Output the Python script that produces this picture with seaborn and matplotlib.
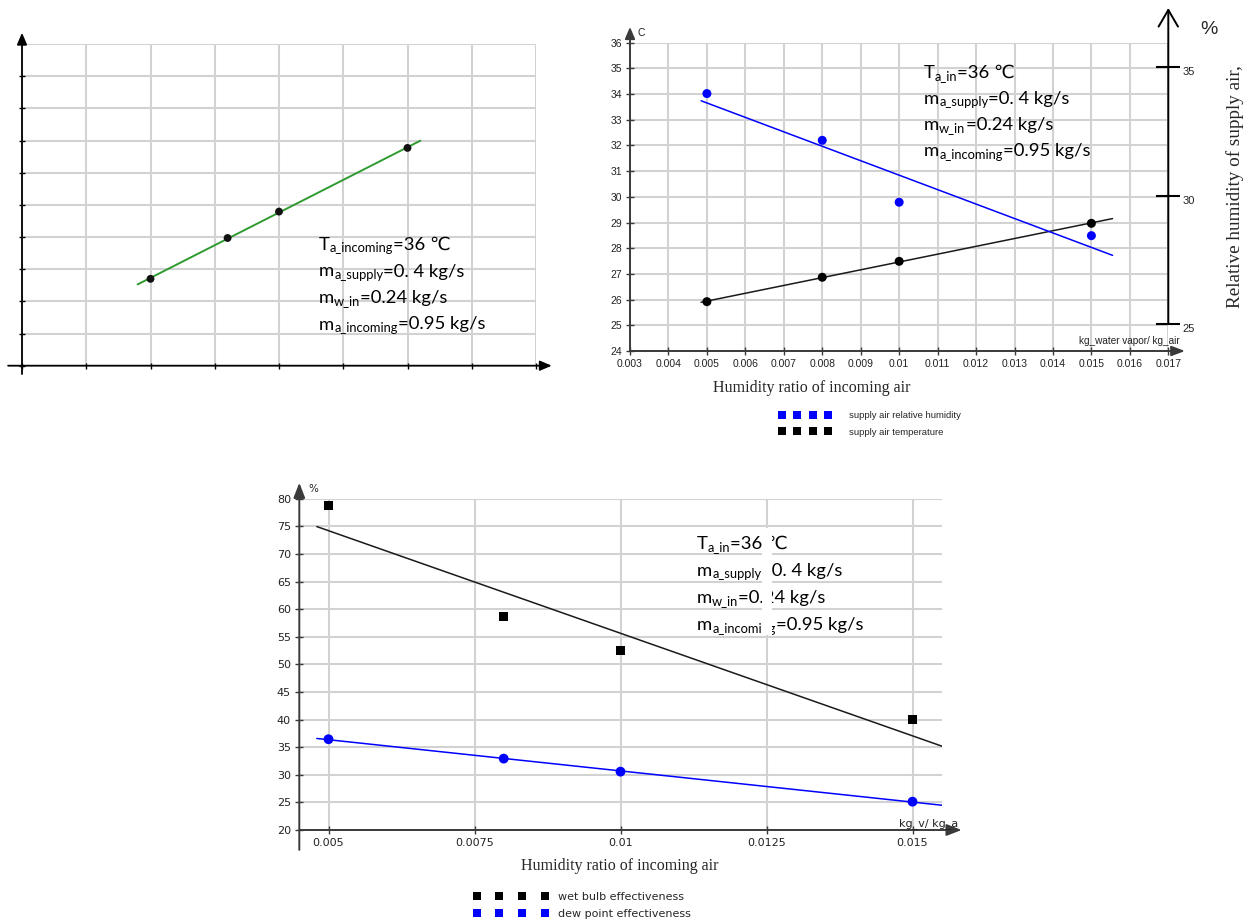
import numpy as np
import matplotlib
matplotlib.use("Agg")
import matplotlib.pyplot as plt
import seaborn as sns
from matplotlib.lines import Line2D
from matplotlib.patches import Rectangle

# ---------------- data ----------------
humidity_ratio = [0.005, 0.008, 0.010, 0.015]          # kg water vapour / kg air

# top-left chart (no value scale printed, grid units)
overview_values = [2.70, 3.97, 4.79, 6.77]

# top-right chart
supply_temperature = [25.92, 26.87, 27.49, 28.97]       # °C (left axis)
supply_rel_humidity = [33.97, 32.15, 29.74, 28.44]      # % (right axis)

# bottom chart
wet_bulb_effectiveness = [78.85, 58.70, 52.45, 39.95]   # %
dew_point_effectiveness = [36.44, 32.93, 30.57, 25.13]  # %

temp_ticks = list(range(24, 37))
rh_ticks = [25, 30, 35]
hr_ticks = [0.003, 0.004, 0.005, 0.006, 0.007, 0.008, 0.009, 0.010,
            0.011, 0.012, 0.013, 0.014, 0.015, 0.016, 0.017]
hr_tick_labels = ["0.003", "0.004", "0.005", "0.006", "0.007", "0.008", "0.009", "0.01",
                  "0.011", "0.012", "0.013", "0.014", "0.015", "0.016", "0.017"]
eff_ticks = list(range(20, 81, 5))
hr_ticks_coarse = [0.005, 0.0075, 0.010, 0.0125, 0.015]
hr_tick_labels_coarse = ["0.005", "0.0075", "0.01", "0.0125", "0.015"]
overview_xticks = [0.0, 0.0025, 0.005, 0.0075, 0.010, 0.0125, 0.015, 0.0175, 0.020]
overview_yticks = list(range(0, 11))

fit_range = (0.00485, 0.01555)

# ---------------- style ----------------
sns.set_theme(style="white")
plt.rcParams["font.family"] = ["Liberation Sans", "DejaVu Sans"]

GRID = "#d2d2d2"
BLUE = "#0000ff"
DARK = "#1a1a1a"
AXIS = "#3a3a3a"
GREEN = "#2f9a2f"
TEXT_FONT = ["Lato", "DejaVu Sans"]

W, H = 1254, 922
fig = plt.figure(figsize=(W / 100, H / 100), dpi=100)
fig.patch.set_facecolor("white")


def add_px_axes(left, top, right, bottom):
    return fig.add_axes([left / W, 1 - bottom / H, (right - left) / W, (bottom - top) / H])


def base_style(ax):
    for s in ax.spines.values():
        s.set_visible(False)
    ax.grid(True, color=GRID, lw=1.5)
    ax.set_axisbelow(True)
    ax.set_xlabel("")
    ax.set_ylabel("")


def axis_arrow(ax, start, end, color, lw, style):
    ax.annotate("", xy=end, xytext=start, xycoords="axes fraction",
                textcoords="axes fraction", annotation_clip=False,
                arrowprops=dict(arrowstyle=style, color=color, lw=lw,
                                shrinkA=0, shrinkB=0, mutation_scale=10))


def trend(ax, x, y, color, lw, span=fit_range):
    coef = np.polyfit(x, y, 1)
    xs = np.array(span)
    sns.lineplot(x=xs, y=np.polyval(coef, xs), ax=ax, color=color, lw=lw, zorder=2)


def param_block(x, baseline, step, lines, size=13.3):
    renderer = fig.canvas.get_renderer()
    for i, parts in enumerate(lines):
        cx = x
        y = baseline + i * step
        for txt, is_sub in parts:
            fs = size * 0.7 if is_sub else size
            off = 2.5 if is_sub else 0
            t = fig.text(cx / W, 1 - (y + off) / H, txt, fontsize=fs, family=TEXT_FONT,
                         va="baseline", ha="left", color="black", zorder=10)
            cx += t.get_window_extent(renderer).width


PARAMS_IN = [
    [("T", False), ("a_in", True), ("=36 \u2103", False)],
    [("m", False), ("a_supply", True), ("=0. 4 kg/s", False)],
    [("m", False), ("w_in", True), ("=0.24 kg/s", False)],
    [("m", False), ("a_incoming", True), ("=0.95 kg/s", False)],
]

# ================= top-left chart =================
ax1 = add_px_axes(22, 44, 536, 365.7)
trend(ax1, humidity_ratio, overview_values, GREEN, 1.4, span=(0.0045, 0.0155))
sns.scatterplot(x=humidity_ratio, y=overview_values, ax=ax1, color="#111111",
                s=32, edgecolor="none", zorder=3)
ax1.set_xlim(0, 0.02)
ax1.set_ylim(0, 10)
ax1.set_xticks(overview_xticks)
ax1.set_yticks(overview_yticks)
base_style(ax1)
ax1.tick_params(axis="both", direction="inout", length=5, width=1, color="black",
                labelbottom=False, labelleft=False, left=True, bottom=True)
axis_arrow(ax1, (-0.027, 0), (1.0306, 0), "black", 1.3, "-|>,head_length=0.7,head_width=0.3")
axis_arrow(ax1, (0, -0.026), (0, 1.035), "black", 1.3, "-|>,head_length=0.7,head_width=0.3")

param_block(319, 250, 26.5, [
    [("T", False), ("a_incoming", True), ("=36 \u2103", False)],
    [("m", False), ("a_supply", True), ("=0. 4 kg/s", False)],
    [("m", False), ("w_in", True), ("=0.24 kg/s", False)],
    [("m", False), ("a_incoming", True), ("=0.95 kg/s", False)],
])

# ================= top-right chart =================
ax2 = add_px_axes(630, 42.7, 1168.3, 351)
trend(ax2, humidity_ratio, supply_temperature, DARK, 1.1)
sns.scatterplot(x=humidity_ratio, y=supply_temperature, ax=ax2, color="black",
                s=42, edgecolor="none", zorder=3)
ax2.set_xlim(0.003, 0.017)
ax2.set_ylim(24, 36)
ax2.set_xticks(hr_ticks)
ax2.set_xticklabels(hr_tick_labels)
ax2.set_yticks(temp_ticks)
base_style(ax2)
ax2.tick_params(axis="both", direction="inout", length=6, width=1, color=AXIS,
                labelsize=7.5, labelcolor="#222222", pad=2.5, left=True, bottom=True)

ax2r = ax2.twinx()
trend(ax2r, humidity_ratio, supply_rel_humidity, BLUE, 1.1)
sns.scatterplot(x=humidity_ratio, y=supply_rel_humidity, ax=ax2r, color=BLUE,
                s=42, edgecolor="none", zorder=3)
ax2r.set_ylim(23.95, 35.95)
ax2r.set_yticks(rh_ticks)
for s in ax2r.spines.values():
    s.set_visible(False)
ax2r.grid(False)
ax2r.set_ylabel("")
ax2r.tick_params(axis="y", direction="inout", length=17, width=1.5, color="black",
                 labelsize=8, labelcolor="#222222", pad=2, right=True, left=False)
for lab in ax2r.get_yticklabels():
    lab.set_va("top")

axis_arrow(ax2, (0, 0), (1.031, 0), AXIS, 1.4, "-|>,head_length=0.8,head_width=0.3")
axis_arrow(ax2, (0, 0), (0, 1.051), AXIS, 1.4, "-|>,head_length=0.7,head_width=0.3")
ax2r.annotate("", xy=(1, 1.1125), xycoords="axes fraction",
              xytext=(1, 25.0), textcoords=("axes fraction", "data"), annotation_clip=False,
              arrowprops=dict(arrowstyle="->,head_length=1.2,head_width=0.7", color="black",
                              lw=1.4, shrinkA=0, shrinkB=0, mutation_scale=10))

fig.text(637 / W, 1 - 33 / H, "C", fontsize=7.5, va="center", ha="left", color="#222222")
fig.text(1180 / W, 1 - 344 / H, "kg_water vapor/ kg_air", fontsize=7.2, va="baseline",
         ha="right", color="#222222")
fig.text(812 / W, 1 - 388 / H, "Humidity ratio of incoming air", fontsize=11.5,
         family="Liberation Serif", ha="center", va="center")
fig.text(1235 / W, 1 - 187 / H, "Relative humidity of supply air,", fontsize=13.8,
         family="Liberation Serif", rotation=90, ha="center", va="center")
fig.text(1209 / W, 1 - 30 / H, "%", fontsize=14, ha="center", va="center")

param_block(924, 78, 26, PARAMS_IN)

fig.legend(
    handles=[Line2D([], [], ls="", marker="s", ms=5.8, color=BLUE, mew=0),
             Line2D([], [], ls="", marker="s", ms=5.8, color="black", mew=0)],
    labels=["supply air relative humidity", "supply air temperature"],
    numpoints=4, loc="center left", bbox_to_anchor=(779 / W, 1 - 424 / H),
    frameon=False, borderpad=0, borderaxespad=0, handlelength=5.5,
    handletextpad=1.9, labelspacing=0.75,
    prop={"family": "Liberation Sans", "size": 6.8},
)

# ================= bottom chart =================
ax3 = add_px_axes(299.3, 498.7, 941.7, 830)
trend(ax3, humidity_ratio, wet_bulb_effectiveness, DARK, 1.1, span=(0.0048, 0.0155))
trend(ax3, humidity_ratio, dew_point_effectiveness, BLUE, 1.1, span=(0.0048, 0.0155))
sns.scatterplot(x=humidity_ratio, y=wet_bulb_effectiveness, ax=ax3, color="black",
                marker="s", s=42, edgecolor="none", zorder=3)
sns.scatterplot(x=humidity_ratio, y=dew_point_effectiveness, ax=ax3, color=BLUE,
                s=50, edgecolor="none", zorder=3)
ax3.set_xlim(0.0045, 0.0155)
ax3.set_ylim(20, 80)
ax3.set_xticks(hr_ticks_coarse)
ax3.set_xticklabels(hr_tick_labels_coarse)
ax3.set_yticks(eff_ticks)
base_style(ax3)
ax3.tick_params(axis="both", direction="inout", length=6, width=1, color=AXIS,
                labelsize=8, labelcolor="#222222", pad=3, left=True, bottom=True)
for lab in ax3.get_xticklabels() + ax3.get_yticklabels():
    lab.set_family("DejaVu Sans")

axis_arrow(ax3, (0, 0), (1.031, 0), AXIS, 1.4, "-|>,head_length=0.9,head_width=0.35")
axis_arrow(ax3, (0, -0.06), (0, 1.048), AXIS, 1.4, "-|>,head_length=0.9,head_width=0.35")

fig.text(308 / W, 1 - 489 / H, "%", fontsize=7.5, va="center", ha="left",
         family="DejaVu Sans", color="#222222")
fig.text(958 / W, 1 - 826 / H, "kg_v/ kg_a", fontsize=8, va="baseline", ha="right",
         family="DejaVu Sans", color="#222222")
fig.text(620 / W, 1 - 866 / H, "Humidity ratio of incoming air", fontsize=11.5,
         family="Liberation Serif", ha="center", va="center")

param_block(697, 549, 27, PARAMS_IN)

# white strip along the 0.0125 grid column, laid over the parameter text
fig.canvas.draw()
bx0, by0 = ax3.transData.transform((0.0125, 55.3))
bx1, by1 = ax3.transData.transform((0.0125, 74.7))
fig.add_artist(Rectangle((bx0 - 5, by0), 10, by1 - by0, transform=None,
                         facecolor="white", edgecolor="none", zorder=11))

fig.legend(
    handles=[Line2D([], [], ls="", marker="s", ms=6, color="black", mew=0),
             Line2D([], [], ls="", marker="s", ms=6, color=BLUE, mew=0)],
    labels=["wet bulb effectiveness", "dew point effectiveness"],
    numpoints=4, loc="center left", bbox_to_anchor=(473.3 / W, 1 - 905 / H),
    frameon=False, borderpad=0, borderaxespad=0, handlelength=6.75,
    handletextpad=0.88, labelspacing=0.63,
    prop={"family": "DejaVu Sans", "size": 8},
)

fig.savefig("out.png", dpi=100, facecolor="white")
